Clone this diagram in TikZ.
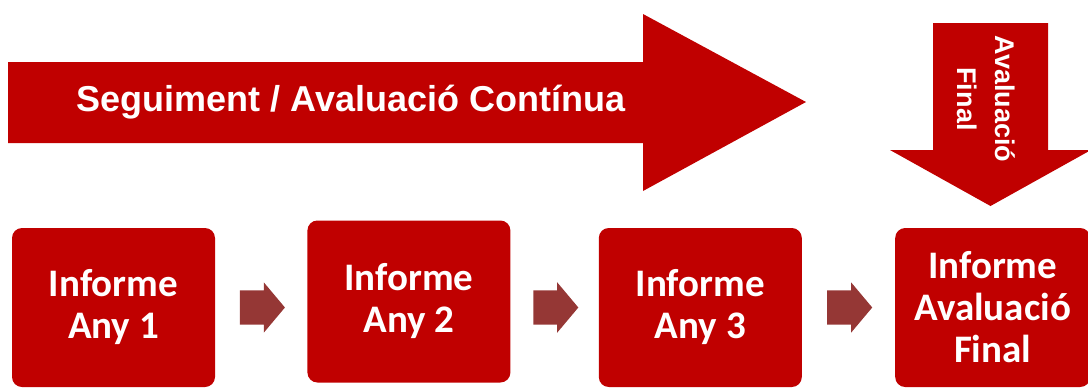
\documentclass[tikz,border=0pt]{standalone}
\usepackage{fontspec}
\setmainfont{Liberation Sans}
\newfontfamily\calibri{Carlito}
\usetikzlibrary{positioning,calc,shapes.arrows}
\definecolor{mainred}{HTML}{C00000}
\definecolor{stepred}{HTML}{953735}

\begin{document}
\begin{tikzpicture}[
			x=1pt, y=-1pt,
			node distance=92pt,
			report/.style={rectangle, rounded corners=10pt, fill=mainred, text=white, minimum width=203pt, minimum height=159pt, align=center, font=\calibri\bfseries\fontsize{39}{42}\selectfont},
			steparrow/.style={single arrow, fill=stepred, minimum height=45pt, inner xsep=0pt, inner ysep=17pt, single arrow head extend=8pt, single arrow tip angle=100, xshift=-6pt},
			bigtext/.style={text=white, font=\bfseries\fontsize{36}{40}\selectfont}
		]
		\useasboundingbox (0,0) rectangle (1088,389);

		% Big arrows
		\fill[mainred] (8,62) -- (643,62) -- (643,14) -- (806,102) -- (643,191) -- (643,143) -- (8,143) -- cycle;
		\fill[mainred] (933,23) -- (1048,23) -- (1048,150) -- (1091,150) -- (990.5,206) -- (890,150) -- (933,150) -- cycle;
		\node[bigtext] (cont) at (351,102) {Seguiment / Avaluació Contínua};
		\node[bigtext, rotate=-90, align=center, font=\bfseries\fontsize{27}{38}\selectfont] (fin) at (986,99) {Avaluació\\Final};

		% Nodes
		\node[report] (any1) at (113.5,307.5) {Informe\\Any 1};
		\node[report, minimum height=162pt, yshift=6pt] (any2) [right=of any1] {Informe\\Any 2};
		\node[report, yshift=-6pt] (any3) [right=88pt of any2] {Informe\\Any 3};
		\node[report, minimum width=195pt] (final) [right=93pt of any3] {Informe\\Avaluació\\Final};

		% Arrows
		\node[steparrow] (a12) at ($(any1.east)!.5!(any1.east -| any2.west)$) {};
		\node[steparrow] (a23) at ($(any3.west)!.5!(any3.west -| any2.east)$) {};
		\node[steparrow] (a34) at ($(any3.east)!.5!(final.west)$) {};
	\end{tikzpicture}
\end{document}
